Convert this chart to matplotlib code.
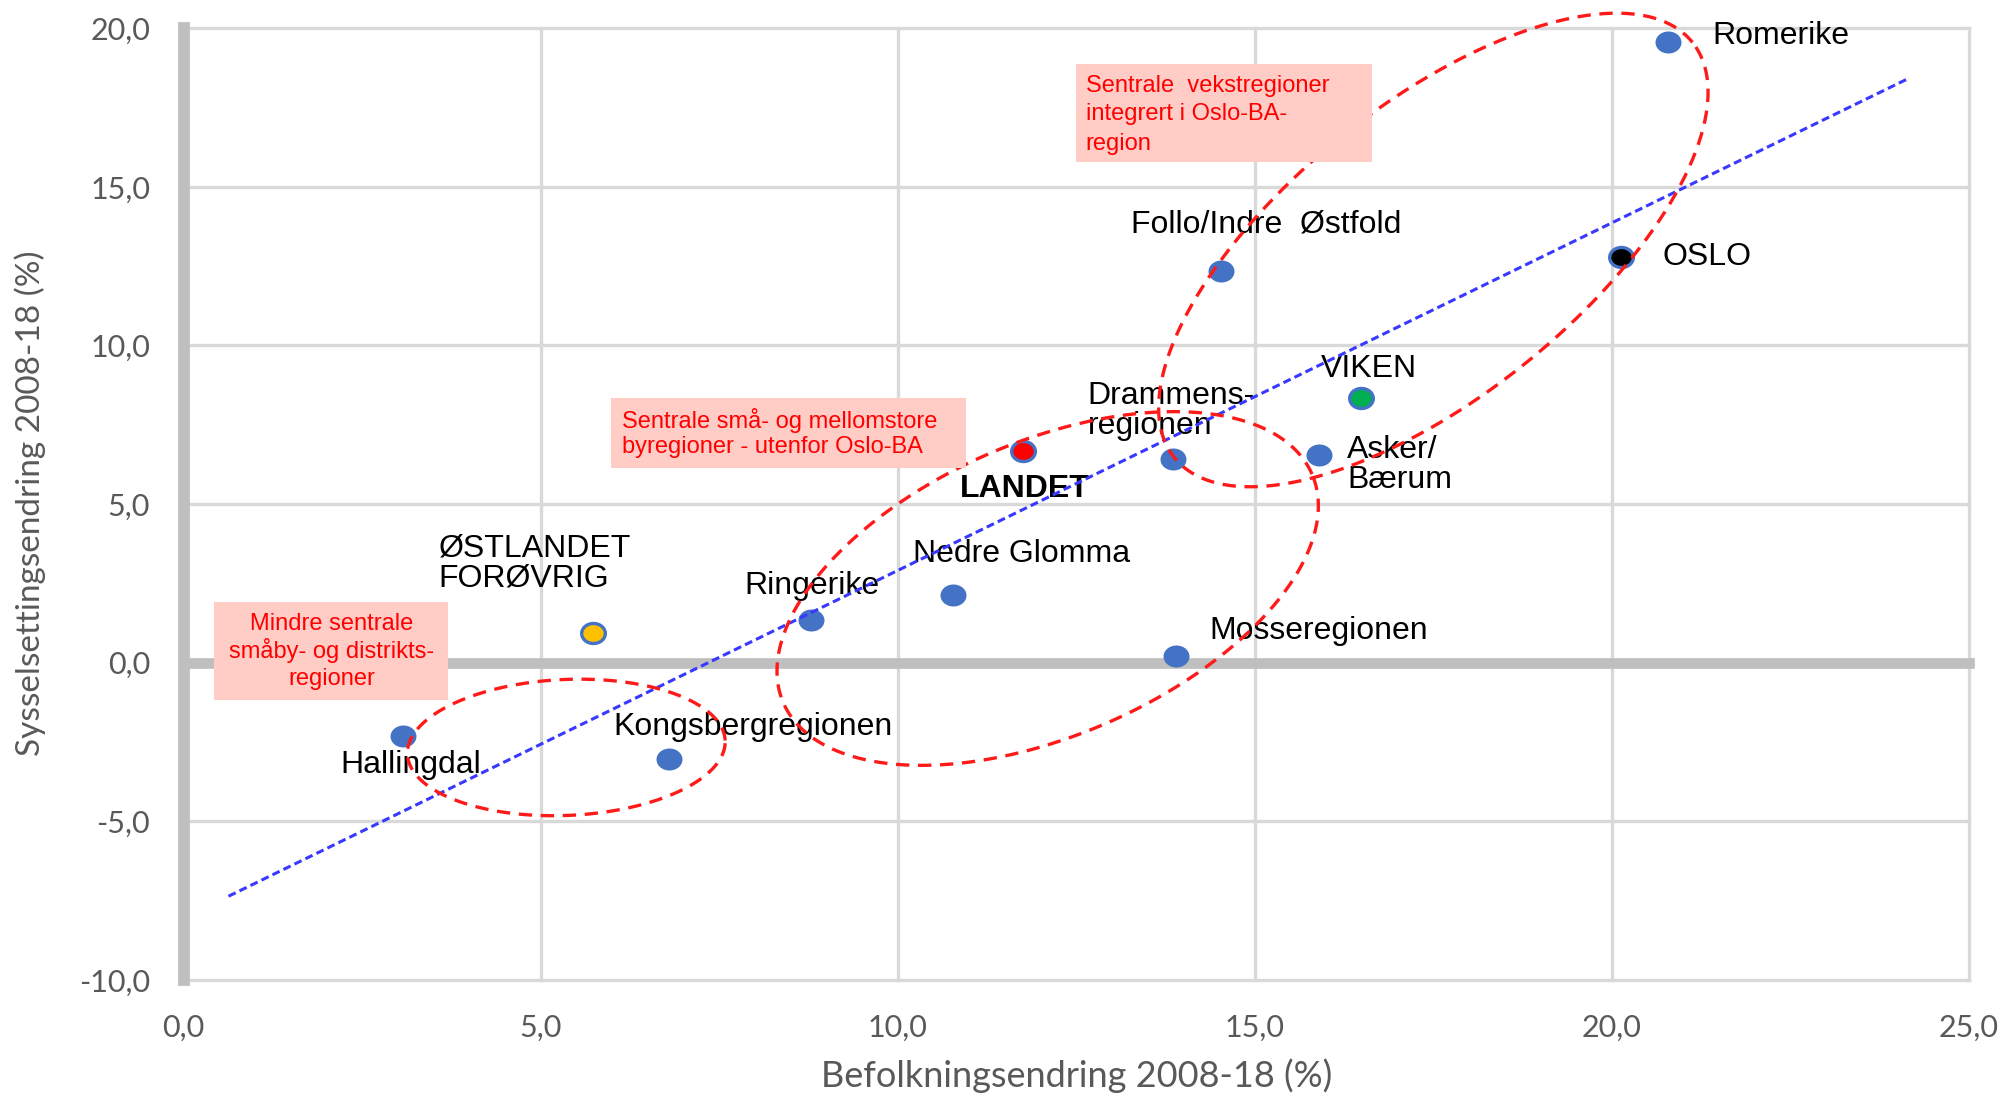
import numpy as np
import matplotlib
matplotlib.use("Agg")
import matplotlib.pyplot as plt
from matplotlib.patches import Rectangle
from matplotlib.path import Path
from matplotlib.transforms import Affine2D

# ---------------- data ----------------
regions = ["Romerike", "OSLO", "Follo/Indre  Østfold", "VIKEN", "Drammens-\nregionen",
           "Asker/\nBærum", "LANDET", "Nedre Glomma", "Ringerike", "ØSTLANDET\nFORØVRIG",
           "Mosseregionen", "Hallingdal", "Kongsbergregionen"]
pop_change = [20.78, 20.13, 14.53, 16.48, 13.86, 15.90, 11.76, 10.77, 8.79, 5.74, 13.89, 3.08, 6.80]
emp_change = [19.58, 12.80, 12.35, 8.34, 6.42, 6.55, 6.66, 2.13, 1.35, 0.94, 0.21, -2.30, -3.04]
fill_colors = ["#4472C4", "#000000", "#4472C4", "#00B050", "#4472C4", "#4472C4", "#FF0000",
               "#4472C4", "#4472C4", "#FFC000", "#4472C4", "#4472C4", "#4472C4"]
label_bold = [False, False, False, False, False, False, True, False, False, False, False, False, False]

# label anchor positions (left edge, vertical centre) in data units
label_x = [21.41, 20.71, 13.27, 15.93, 12.66, 16.29, 10.87, 10.22, 7.85, 3.57, 14.37, 2.19, 6.02]
label_y = [19.76, 12.78, 13.80, 9.26, 7.95, 6.22, 5.49, 3.42, 2.41, 3.14, 0.99, -3.23, -2.01]

# trend line
trend_x = [0.63, 24.12]
trend_y = [-7.36, 18.38]

x_ticks = [0, 5, 10, 15, 20, 25]
x_tick_labels = ["0,0", "5,0", "10,0", "15,0", "20,0", "25,0"]
y_ticks = [-10, -5, 0, 5, 10, 15, 20]
y_tick_labels = ["-10,0", "-5,0", "0,0", "5,0", "10,0", "15,0", "20,0"]

x_label = "Befolkningsendring 2008-18 (%)"
y_label = "Sysselsettingsendring 2008-18 (%)"

# annotation boxes: (x0, x1, y0, y1), text lines, text x, line y's, alignment
box_rects = [(12.50, 16.64, 15.77, 18.88), (5.98, 10.95, 6.15, 8.35), (0.43, 3.71, -1.18, 1.92)]
box_lines = [["Sentrale  vekstregioner", "integrert i Oslo-BA-", "region"],
             ["Sentrale små- og mellomstore", "byregioner - utenfor Oslo-BA"],
             ["Mindre sentrale", "småby- og distrikts-", "regioner"]]
box_text_x = [12.63, 6.14, 2.07]
box_text_y = [[18.19, 17.28, 16.34], [7.65, 6.79], [1.23, 0.37, -0.50]]
box_align = ["left", "left", "center"]

# group ellipses: centre (data), semi-axes (px), angle (deg, screen space)
ell_cx = [17.50, 12.10, 5.36]
ell_cy = [13.01, 2.34, -2.67]
ell_a = [332, 288, 159]
ell_b = [146, 147, 68]
ell_ang = [38.7, 23.4, 2.5]

# ---------------- figure ----------------
W, H = 2013, 1096
fig = plt.figure(figsize=(W / 100, H / 100), dpi=100)
ax = fig.add_axes([183.5 / W, 1 - 980 / H, (1969 - 183.5) / W, (980 - 28.2) / H])
ax.set_xlim(0, 25)
ax.set_ylim(-10, 20)
for s in ax.spines.values():
    s.set_visible(False)

grid_c = "#D9D9D9"
for xv in x_ticks:
    ax.axvline(xv, color=grid_c, lw=2.4, zorder=0.5, clip_on=False)
for yv in y_ticks:
    ax.axhline(yv, color=grid_c, lw=2.4, zorder=0.5, clip_on=False)
ax.axvline(0, color="#BFBFBF", lw=8.5, zorder=1, clip_on=False)
ax.axhline(0, color="#BFBFBF", lw=7.7, zorder=1, clip_on=False)

ax.set_xticks(x_ticks)
ax.set_xticklabels(x_tick_labels)
ax.set_yticks(y_ticks)
ax.set_yticklabels(y_tick_labels)
ax.tick_params(length=0, labelsize=22, labelcolor="#595959", pad=24)
for t in ax.get_xticklabels() + ax.get_yticklabels():
    t.set_fontfamily("Lato")

fig.text(0.5348, 1 - 1076 / H, x_label, ha="center", va="center", fontsize=26,
         color="#595959", family="Lato")
fig.text(30 / W, 1 - 503 / H, y_label, ha="center", va="center", rotation=90,
         fontsize=24, color="#595959", family="Lato")

# slightly elliptical markers (reference is stretched horizontally)
ell_marker = Path.unit_circle().transformed(Affine2D().scale(1.18, 1.0))
for xv, yv, fc in zip(pop_change, emp_change, fill_colors):
    if fc == "#4472C4":
        ax.scatter([xv], [yv], s=350, marker=ell_marker, color=fc, linewidths=0, zorder=3)
    else:
        ax.scatter([xv], [yv], s=290, marker=ell_marker, facecolor=fc,
                   edgecolor="#4472C4", linewidths=2.4, zorder=3)

for name, lx, ly, b in zip(regions, label_x, label_y, label_bold):
    ax.text(lx, ly, name, ha="left", va="center", fontsize=23, family="Liberation Sans",
            fontweight="bold" if b else "normal", color="black", linespacing=1.0, zorder=2.5)

# trend line
ax.plot(trend_x, trend_y, color="#3838FF", lw=2.2, dashes=(2.6, 1.4), zorder=4)

# ellipses
bb = ax.get_window_extent()
sx = bb.width / 25.0
sy = bb.height / 30.0
tt = np.linspace(0, 2 * np.pi, 500)
for cx, cy, a, b, ang in zip(ell_cx, ell_cy, ell_a, ell_b, ell_ang):
    th = np.deg2rad(ang)
    dx = a * np.cos(tt) * np.cos(th) - b * np.sin(tt) * np.sin(th)
    dy = a * np.cos(tt) * np.sin(th) + b * np.sin(tt) * np.cos(th)
    ax.plot(cx + dx / sx, cy + dy / sy, color="#FF1A1A", lw=2.4, dashes=(4, 2.6),
            zorder=4, clip_on=False)

# boxes
for (x0, x1, y0, y1), lines, tx, tys, al in zip(box_rects, box_lines, box_text_x, box_text_y, box_align):
    ax.add_patch(Rectangle((x0, y0), x1 - x0, y1 - y0, facecolor="#FFCCC6",
                           edgecolor="none", zorder=5, clip_on=False))
    for line, ty in zip(lines, tys):
        ax.text(tx, ty, line, ha=al, va="center", fontsize=17, family="Liberation Sans",
                color="#FF0000", zorder=6)

fig.savefig("out.png", dpi=100)
